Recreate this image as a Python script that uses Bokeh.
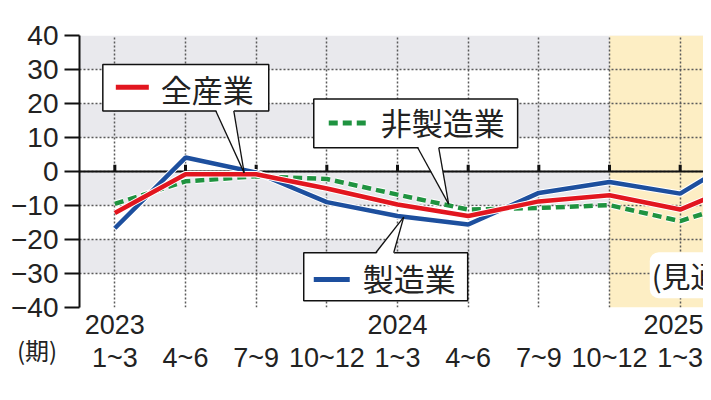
from bokeh.plotting import figure
from bokeh.models import (FixedTicker, LinearAxis, Range1d, Grid, BoxAnnotation,
                          Span, Label)
from bokeh.core.properties import value
from bokeh.embed import file_html
from bokeh.resources import INLINE

# ---------------- data ----------------
quarters = ["1~3", "4~6", "7~9", "10~12", "1~3", "4~6", "7~9", "10~12", "1~3", "4~6"]
years = ["2023", "2024", "2025"]
year_pos = [0, 4, 8]
all_industry = [-12.2, -0.8, -0.8, -5.0, -9.7, -13.1, -8.8, -7.0, -11.2, -2.5]
manufacturing = [-16.7, 4.1, -0.3, -9.0, -13.1, -15.6, -6.3, -3.1, -6.5, 6.0]
non_manufacturing = [-9.5, -2.9, -1.4, -2.2, -6.8, -11.2, -10.7, -9.9, -14.6, -8.0]
y_ticks = [-40, -30, -20, -10, 0, 10, 20, 30, 40]
forecast_start = 7

x = list(range(len(quarters)))

NUM_FONT = "Liberation Sans"
JP_FONT = "Noto Sans CJK JP"
RED = "#e2161f"
BLUE = "#1d4f9e"
GREEN = "#1f9340"
INK = "#222222"

p = figure(width=703, height=384, output_backend="svg", toolbar_location=None,
           x_range=Range1d(-0.5, 8.33), y_range=Range1d(-40, 40),
           min_border_left=79, min_border_right=0, min_border_top=33,
           min_border_bottom=77)
p.outline_line_color = None
p.background_fill_color = "white"
p.border_fill_color = "white"
p.xgrid.visible = False
p.ygrid.visible = False

# bands
p.add_layout(Grid(dimension=1, ticker=FixedTicker(ticks=y_ticks), grid_line_color=None,
                  band_fill_color="#e9e9ed", band_fill_alpha=1.0, level="image"))
# forecast zone
p.add_layout(BoxAnnotation(left=forecast_start, fill_color="#fdeec4", fill_alpha=1.0,
                           line_color=None, level="underlay"))
# dotted grids
p.add_layout(Grid(dimension=1, ticker=FixedTicker(ticks=y_ticks), grid_line_color="#5a5a5a",
                  grid_line_dash="2 2", grid_line_width=1.5, level="underlay"))
p.add_layout(Grid(dimension=0, ticker=FixedTicker(ticks=x[:9]), grid_line_color="#5a5a5a",
                  grid_line_dash="2 2", grid_line_width=1.5, level="underlay"))

# zero line and its small ticks
p.add_layout(Span(location=0, dimension="width", line_color="#111111", line_width=2,
                  level="underlay"))
p.segment(x0=x[:9], y0=[0] * 9, x1=x[:9], y1=[2.0] * 9, line_color="#111111", line_width=3)

# y axis
yax = p.yaxis[0]
yax.ticker = FixedTicker(ticks=y_ticks)
yax.axis_line_color = "#111111"
yax.axis_line_width = 2
yax.major_tick_out = 15
yax.major_tick_in = 0
yax.major_tick_line_width = 2
yax.major_tick_line_color = "#111111"
yax.minor_tick_line_color = None
yax.major_label_standoff = 6
yax.major_label_text_font = NUM_FONT
yax.major_label_text_font_size = "28px"
yax.major_label_text_color = INK

# x axis: years
xax = p.xaxis[0]
xax.ticker = FixedTicker(ticks=year_pos)
xax.major_label_overrides = {pos: yr for pos, yr in zip(year_pos, years)}
xax.axis_line_color = None
xax.major_tick_line_color = None
xax.minor_tick_line_color = None
xax.major_label_standoff = 1
xax.major_label_text_font = NUM_FONT
xax.major_label_text_font_size = "27px"
xax.major_label_text_color = INK

# x axis: quarters
qax = LinearAxis(ticker=FixedTicker(ticks=x[:9]),
                 major_label_overrides={i: q for i, q in enumerate(quarters)})
qax.axis_line_color = None
qax.major_tick_line_color = None
qax.minor_tick_line_color = None
qax.major_label_standoff = 0
qax.major_label_text_font = NUM_FONT
qax.major_label_text_font_size = "27px"
qax.major_label_text_color = INK
p.add_layout(qax, "below")

# series (white casing + colour)
p.line(x, non_manufacturing, line_color="white", line_width=6.5, line_dash="9 5")
p.line(x, non_manufacturing, line_color=GREEN, line_width=4.5, line_dash="9 5")
p.line(x, manufacturing, line_color="white", line_width=6.5)
p.line(x, manufacturing, line_color=BLUE, line_width=4.5)
p.line(x, all_industry, line_color="white", line_width=6.5)
p.line(x, all_industry, line_color=RED, line_width=4.5)

# forecast label with a white halo-like rounded background
p.add_layout(Label(x=7.57, y=-30.5, text="(見通し)", text_font=JP_FONT,
                   text_font_size="29px", text_baseline="middle", text_align="left",
                   text_color=INK, background_fill_color="white", padding=2,
                   border_radius=9))


# callout legend boxes
def callout(left, right, bottom, top, base_l, base_r, base_y, tip, join_y):
    p.quad(left=[left], right=[right], bottom=[bottom], top=[top],
           fill_color="white", line_color="#111111", line_width=1.5)
    p.patch([base_l, tip[0], base_r], [join_y, tip[1], join_y],
            fill_color="white", line_color=None)
    p.multi_line([[base_l, tip[0]], [base_r, tip[0]]], [[base_y, tip[1]], [base_y, tip[1]]],
                 line_color="#111111", line_width=1.3)


callout(-0.170, 2.178, 17.8, 31.5, 1.429, 1.683, 17.8, (1.83, -0.4), 18.3)
p.segment(x0=[0.014], y0=[24.8], x1=[0.481], y1=[24.8], line_color=RED, line_width=5)
p.text(x=[0.651], y=[24.5], text=["全産業"], text_font=value(JP_FONT), text_font_size="31px",
       text_baseline="middle", text_align="left", text_color=INK)

callout(2.815, 5.700, 7.0, 21.3, 4.286, 4.583, 7.0, (4.724, -9.6), 7.5)
p.segment(x0=[3.027], y0=[14.3], x1=[3.593], y1=[14.3], line_color=GREEN, line_width=5,
          line_dash="9 5")
p.text(x=[3.762], y=[14.6], text=["非製造業"], text_font=value(JP_FONT), text_font_size="31px",
       text_baseline="middle", text_align="left", text_color=INK)

callout(2.673, 4.993, -38.0, -23.9, 3.692, 3.946, -23.9, (4.088, -13.4), -24.4)
p.segment(x0=[2.815], y0=[-31.8], x1=[3.324], y1=[-31.8], line_color=BLUE, line_width=5)
p.text(x=[3.508], y=[-31.2], text=["製造業"], text_font=value(JP_FONT), text_font_size="31px",
       text_baseline="middle", text_align="left", text_color=INK)

# period unit label (side panel so it is not clipped to the frame)
p.add_layout(Label(x=-1.1, y=-52.3, text="(期)", text_font=JP_FONT, text_font_size="24px",
                   text_align="center", text_baseline="middle", text_color=INK), "above")

open("out.html", "w").write(file_html(p, INLINE))
